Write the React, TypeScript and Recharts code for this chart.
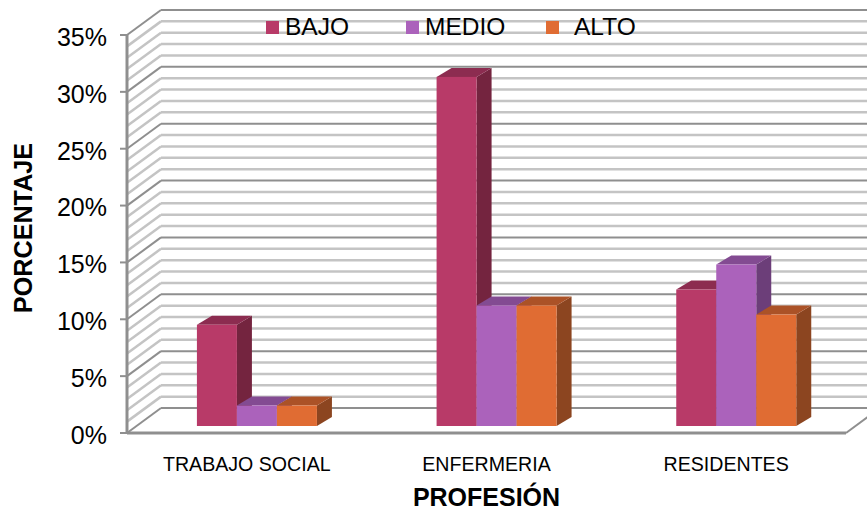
import { BarChart, Bar, XAxis, YAxis, ReferenceLine, Legend } from "recharts";

const CATEGORIES = ["TRABAJO SOCIAL", "ENFERMERIA", "RESIDENTES"];
const BAJO = [8.9, 30.7, 12];
const MEDIO = [1.8, 10.6, 14.2];
const ALTO = [1.8, 10.6, 9.8];
const Y_TICKS = [0, 5, 10, 15, 20, 25, 30, 35];
const GRID_VALUES = Array.from({ length: 36 }, (_, i) => i);

const FONT = '"Liberation Sans", Arial, sans-serif';

const COLORS = {
  bajo: { front: "#b83a68", top: "#8c2c50", side: "#74243f" },
  medio: { front: "#ab62bb", top: "#834b92", side: "#6c3e79" },
  alto: { front: "#e06c33", top: "#ab5227", side: "#8c4520" },
};

const data = CATEGORIES.map((name, i) => ({
  name,
  BAJO: BAJO[i],
  MEDIO: MEDIO[i],
  ALTO: ALTO[i],
}));

// fake 3D depth of the box: back wall sits up and to the right of the front plane
const WALL_DX = 34;
const WALL_DY = 25;
const BAR_DX = 15;
const BAR_DY = 9;
const BAR_SHIFT_X = 10;
const BAR_SHIFT_Y = 7;

function box3d(c: { front: string; top: string; side: string }) {
  return (props: any) => {
    const x = props.x + BAR_SHIFT_X;
    const y = props.y - BAR_SHIFT_Y;
    const w = props.width;
    const h = props.height;
    return (
      <g>
        <polygon
          points={`${x + w},${y} ${x + w + BAR_DX},${y - BAR_DY} ${x + w + BAR_DX},${y + h - BAR_DY} ${x + w},${y + h}`}
          fill={c.side}
        />
        <polygon
          points={`${x},${y} ${x + BAR_DX},${y - BAR_DY} ${x + w + BAR_DX},${y - BAR_DY} ${x + w},${y}`}
          fill={c.top}
        />
        <rect x={x} y={y} width={w} height={h} fill={c.front} />
      </g>
    );
  };
}

// one gridline: diagonal on the side wall plus the horizontal on the back wall
function wallLine(major: boolean, floor: boolean) {
  return (props: any) => {
    const { x1, y1, x2 } = props;
    const bx = x1 + WALL_DX;
    const by = y1 - WALL_DY;
    return (
      <g fill="none" stroke={major ? "#8f8f8f" : "#c4c4c4"} strokeWidth={major ? 2 : 2.5}>
        <line x1={x1} y1={y1} x2={bx} y2={by} />
        <line x1={bx} y1={by} x2={900} y2={by} />
        {floor && (
          <g stroke="#8f8f8f">
            <line x1={x1} y1={y1} x2={x2} y2={y1} strokeWidth={3} />
            <line x1={x2} y1={y1} x2={x2 + WALL_DX} y2={y1 - WALL_DY} />
          </g>
        )}
      </g>
    );
  };
}

function LegendRow() {
  const items = [
    { label: "BAJO", color: COLORS.bajo.front, gap: 6 },
    { label: "MEDIO", color: COLORS.medio.front, gap: 6 },
    { label: "ALTO", color: COLORS.alto.front, gap: 15 },
  ];
  return (
    <div style={{ display: "flex", fontFamily: FONT, fontSize: 24.5, color: "#000" }}>
      {items.map((it) => (
        <div key={it.label} style={{ display: "flex", alignItems: "center", width: 140 }}>
          <span style={{ width: 13, height: 13, background: it.color, marginRight: it.gap }} />
          <span>{it.label}</span>
        </div>
      ))}
    </div>
  );
}

// rotated axis title, sits a little above the middle of the plot
function YTitle(props: any) {
  const cy = props.viewBox.y + props.viewBox.height / 2 - 6;
  return (
    <text
      x={32}
      y={cy}
      transform={`rotate(-90 32 ${cy})`}
      textAnchor="middle"
      fontFamily={FONT}
      fontSize={25.2}
      fontWeight="bold"
      fill="#000"
    >
      PORCENTAJE
    </text>
  );
}

export default function App() {
  return (
    <div style={{ position: "absolute", left: 0, top: 0, width: 867, height: 512 }}>
      <BarChart
        width={867}
        height={512}
        data={data}
        barGap={0}
        barCategoryGap="25%"
        margin={{ top: 35, right: 21, bottom: 0, left: 0 }}
      >
        <XAxis
          dataKey="name"
          height={79}
          axisLine={false}
          tickLine={false}
          tickMargin={18}
          interval={0}
          tick={{ fontFamily: FONT, fontSize: 19.6, fill: "#000" }}
          label={{
            value: "PROFESIÓN",
            position: "insideBottom",
            offset: 6,
            style: { fontFamily: FONT, fontSize: 25, fontWeight: "bold", fill: "#000" },
          }}
        />
        <YAxis
          width={127}
          domain={[0, 35]}
          ticks={Y_TICKS}
          interval={0}
          axisLine={{ stroke: "#8f8f8f", strokeWidth: 3 }}
          tickLine={{ stroke: "#8f8f8f", strokeWidth: 2 }}
          tickSize={7}
          tickMargin={13}
          tick={{ fontFamily: FONT, fontSize: 25, fill: "#000", dy: 2 }}
          tickFormatter={(v) => `${v}%`}
          label={{ content: YTitle }}
        />
        {GRID_VALUES.map((v) => (
          <ReferenceLine
            key={v}
            y={v}
            zIndex={-100}
            shape={wallLine(Y_TICKS.includes(v), v === 0)}
          />
        ))}
        <Legend
          content={<LegendRow />}
          layout="horizontal"
          verticalAlign="middle"
          wrapperStyle={{ position: "absolute", left: 266, top: 13, width: "auto", bottom: "auto" }}
        />
        <Bar dataKey="BAJO" fill={COLORS.bajo.front} shape={box3d(COLORS.bajo)} isAnimationActive={false} />
        <Bar dataKey="MEDIO" fill={COLORS.medio.front} shape={box3d(COLORS.medio)} isAnimationActive={false} />
        <Bar dataKey="ALTO" fill={COLORS.alto.front} shape={box3d(COLORS.alto)} isAnimationActive={false} />
      </BarChart>
    </div>
  );
}
